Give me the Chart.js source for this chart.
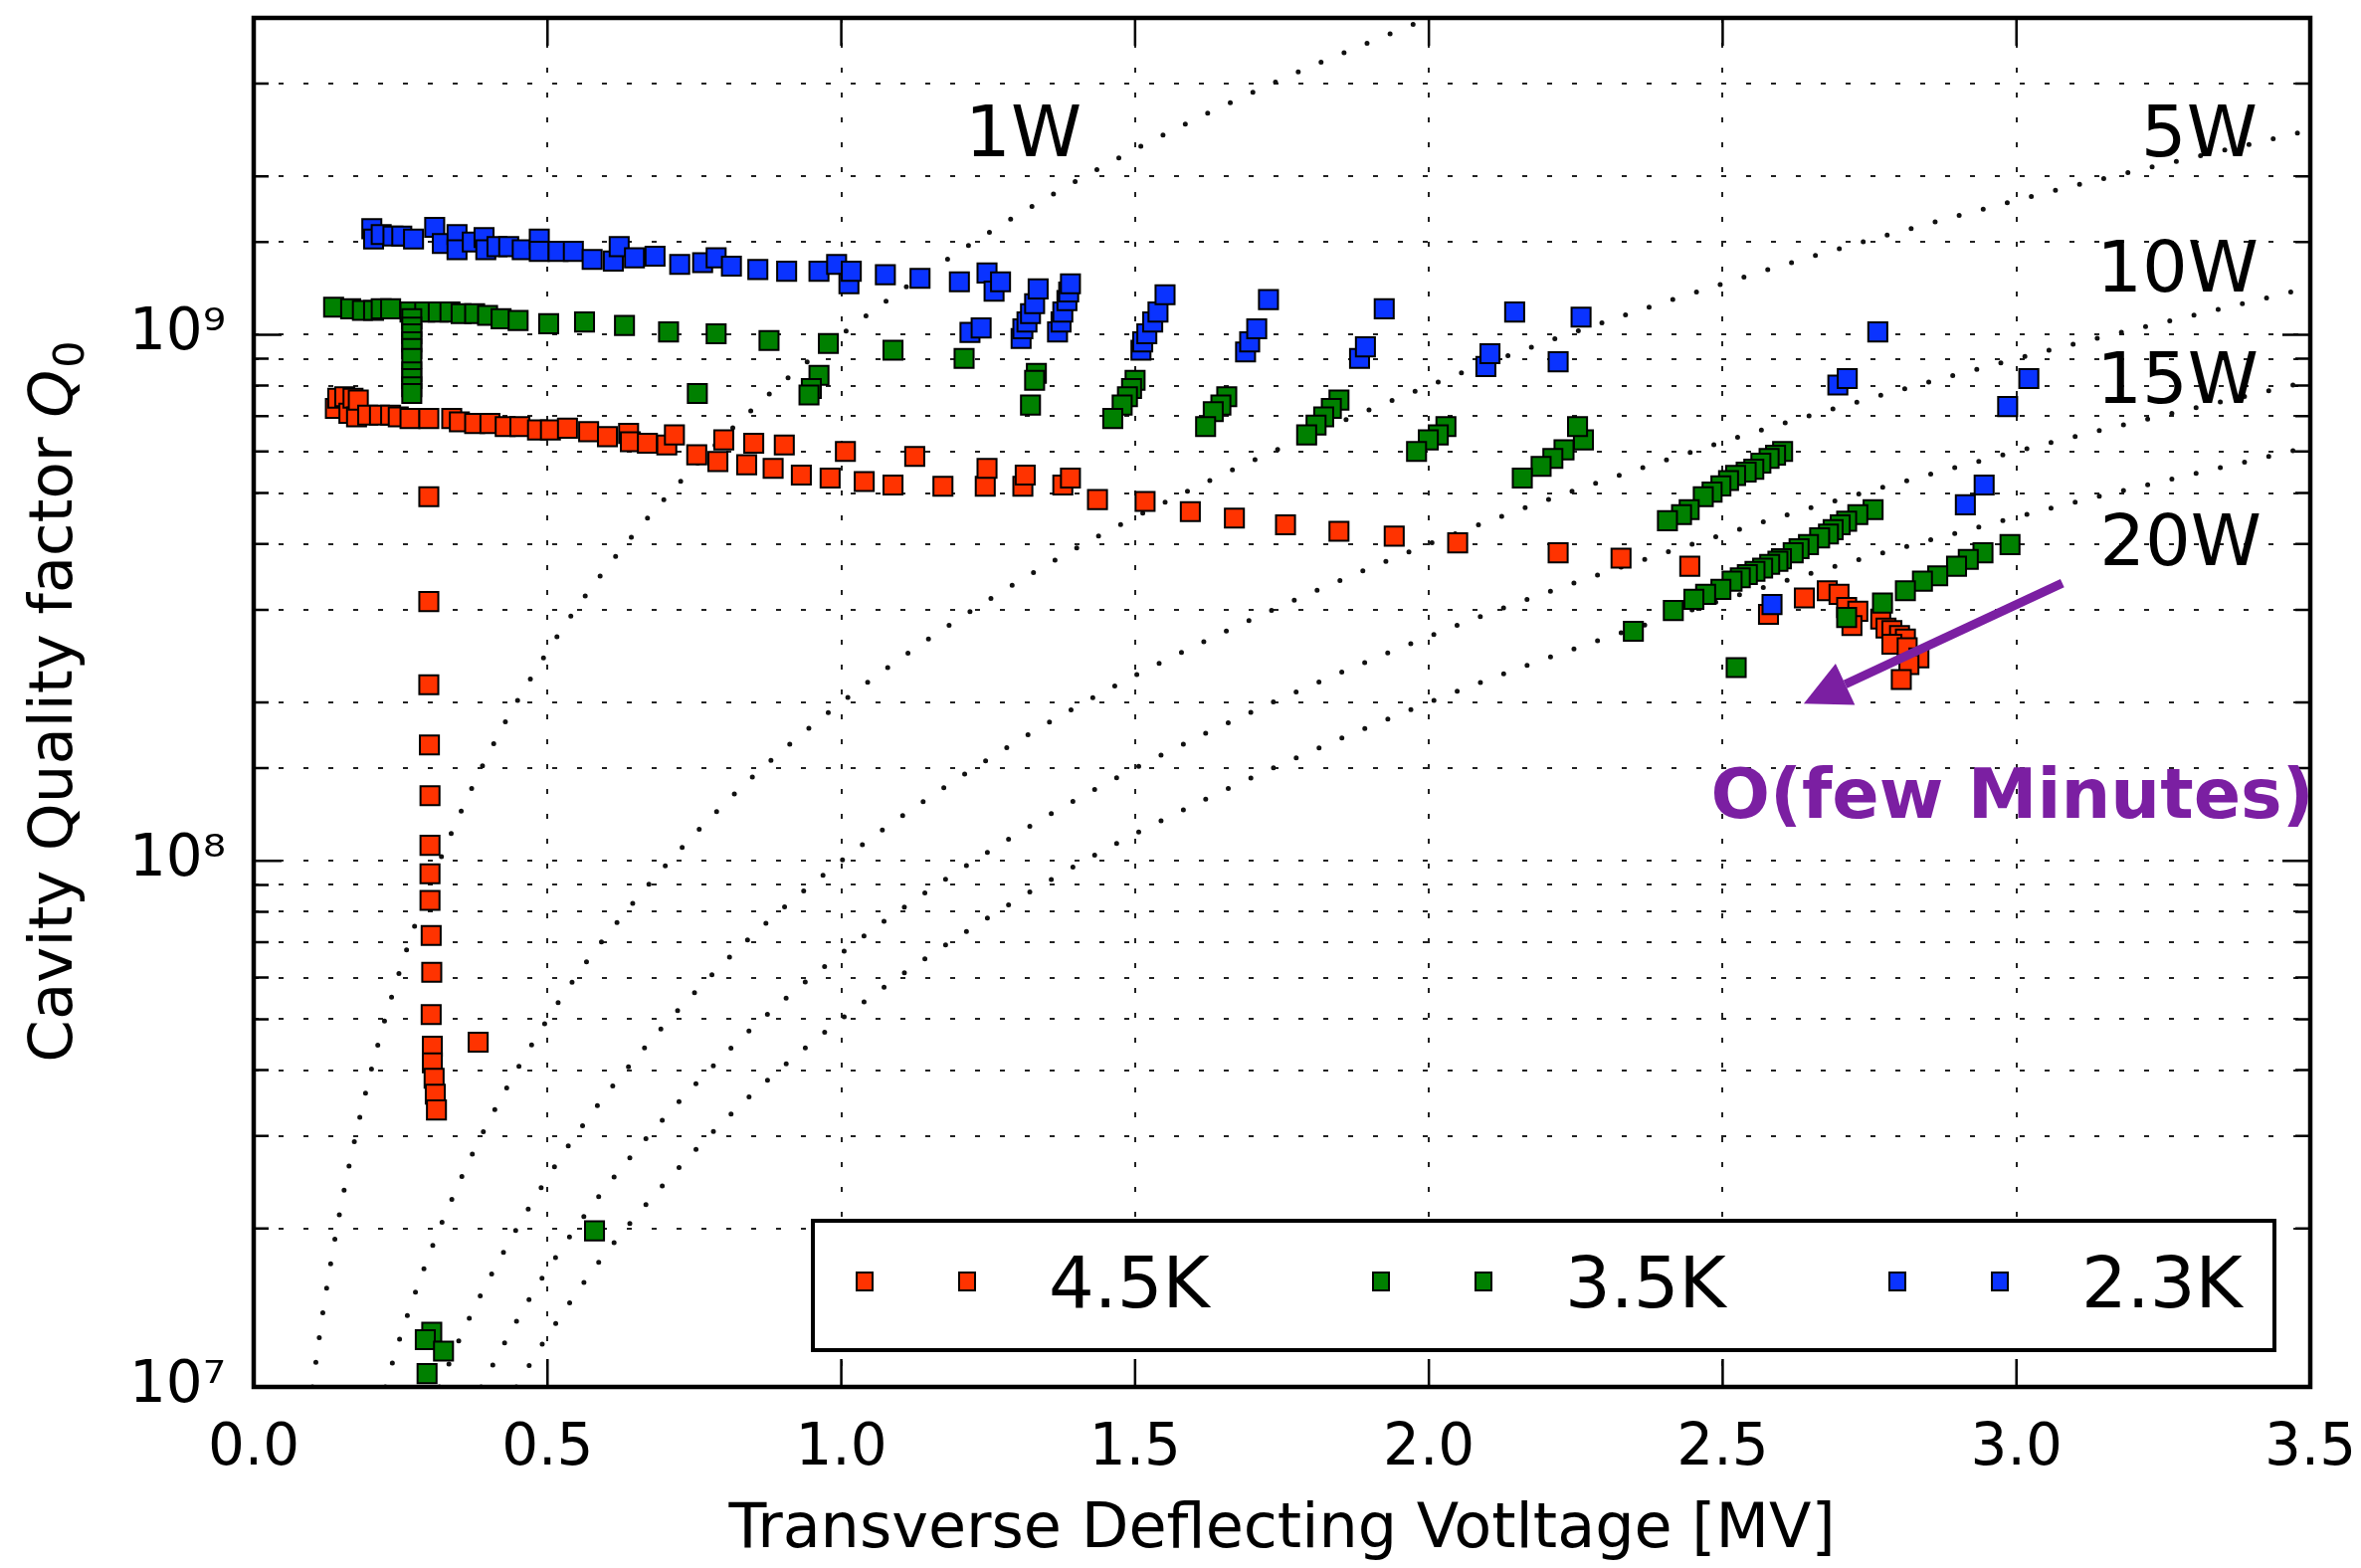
<!DOCTYPE html>
<html>
<head>
<meta charset="utf-8">
<script src="https://cdn.jsdelivr.net/npm/chart.js@4.4.1/dist/chart.umd.min.js"></script>
<style>
  body { margin: 0; background: #fff; }
  canvas { display: block; }
</style>
</head>
<body>
<canvas id="mycanvas" width="2373" height="1576"></canvas>
<script>
// 4.5 K : voltage [MV] and Q0
var v45 = [
  0.139, 0.143, 0.155, 0.162, 0.169, 0.175, 0.178, 0.194, 0.214, 0.233,
  0.246, 0.266, 0.298, 0.337, 0.350, 0.376, 0.402, 0.428, 0.453, 0.483,
  0.505, 0.534, 0.570, 0.602, 0.638, 0.641, 0.670, 0.703, 0.716, 0.754,
  0.790, 0.800, 0.839, 0.851, 0.884, 0.903, 0.932, 0.981, 1.007, 1.039,
  1.088, 1.125, 1.173, 1.245, 1.248, 1.309, 1.313, 1.377, 1.390, 1.436,
  1.517, 1.594, 1.669, 1.756, 1.847, 1.941, 2.049, 2.220, 2.327, 2.444,
  2.578, 2.639, 2.678, 2.698, 2.711, 2.730, 2.720, 2.769, 2.778, 2.788,
  2.801, 2.811, 2.788, 2.814, 2.834, 2.817, 2.804,
  0.298, 0.298, 0.298, 0.299, 0.300, 0.300, 0.300, 0.300, 0.302, 0.303,
  0.302, 0.304, 0.304, 0.307, 0.309, 0.311, 0.382
];
var q45 = [
  7.24e8, 7.57e8, 7.62e8, 7.09e8, 7.57e8, 6.98e8, 7.51e8, 7.03e8, 7.03e8, 7.03e8,
  6.98e8, 6.93e8, 6.93e8, 6.93e8, 6.83e8, 6.78e8, 6.78e8, 6.69e8, 6.69e8, 6.59e8,
  6.59e8, 6.64e8, 6.54e8, 6.40e8, 6.49e8, 6.26e8, 6.22e8, 6.17e8, 6.45e8, 5.91e8,
  5.74e8, 6.31e8, 5.66e8, 6.22e8, 5.57e8, 6.17e8, 5.41e8, 5.34e8, 6.00e8, 5.26e8,
  5.18e8, 5.87e8, 5.15e8, 5.15e8, 5.57e8, 5.15e8, 5.41e8, 5.18e8, 5.34e8, 4.86e8,
  4.82e8, 4.61e8, 4.48e8, 4.35e8, 4.23e8, 4.14e8, 4.02e8, 3.85e8, 3.76e8, 3.63e8,
  2.94e8, 3.16e8, 3.26e8, 3.21e8, 3.03e8, 2.98e8, 2.80e8, 2.88e8, 2.77e8, 2.74e8,
  2.68e8, 2.64e8, 2.58e8, 2.54e8, 2.43e8, 2.36e8, 2.21e8,
  4.92e8, 3.11e8, 2.16e8, 1.66e8, 1.33e8, 1.07e8, 9.45e7, 8.41e7, 7.21e7, 6.14e7,
  5.10e7, 4.44e7, 4.13e7, 3.86e7, 3.60e7, 3.36e7, 4.52e7
];

// 3.5 K
var v35 = [
  0.136, 0.165, 0.185, 0.204, 0.217, 0.233, 0.266, 0.291, 0.314, 0.334,
  0.353, 0.376, 0.398, 0.421, 0.450, 0.502, 0.563, 0.631, 0.706, 0.787,
  0.877, 0.978, 1.088, 1.209,
  0.269, 0.269, 0.269, 0.269, 0.269, 0.269, 0.269, 0.269, 0.269, 0.269,
  0.755, 0.962, 0.949, 0.945, 1.332, 1.329, 1.322,
  1.500, 1.494, 1.487, 1.478, 1.462,
  1.656, 1.646, 1.633, 1.620,
  1.847, 1.834, 1.821, 1.808, 1.792,
  2.029, 2.016, 1.999, 1.979,
  2.263, 2.253, 2.230, 2.211, 2.191, 2.159,
  2.602, 2.590, 2.579, 2.565, 2.553, 2.540, 2.522, 2.510, 2.497, 2.482, 2.467, 2.443, 2.430, 2.406,
  2.756, 2.730, 2.711, 2.700, 2.688, 2.680, 2.665, 2.646, 2.630, 2.620, 2.600, 2.594,
  2.580, 2.568, 2.555, 2.542, 2.530, 2.516, 2.497, 2.471, 2.451, 2.416, 2.348,
  2.523,
  2.989, 2.943, 2.918, 2.898, 2.866, 2.840, 2.811, 2.772, 2.711,
  0.580, 0.303, 0.292, 0.323, 0.295
];
var q35 = [
  1.128e9, 1.120e9, 1.112e9, 1.112e9, 1.120e9, 1.120e9, 1.104e9, 1.104e9, 1.104e9, 1.104e9,
  1.096e9, 1.096e9, 1.088e9, 1.072e9, 1.064e9, 1.049e9, 1.057e9, 1.041e9, 1.012e9, 1.004e9,
  9.75e8, 9.62e8, 9.34e8, 9.01e8,
  1.072e9, 1.034e9, 1.004e9, 9.69e8, 9.41e8, 9.01e8, 8.50e8, 8.25e8, 7.96e8, 7.73e8,
  7.73e8, 8.37e8, 7.90e8, 7.68e8, 8.44e8, 8.19e8, 7.35e8,
  8.19e8, 7.90e8, 7.62e8, 7.35e8, 6.93e8,
  7.62e8, 7.35e8, 7.14e8, 6.69e8,
  7.51e8, 7.24e8, 6.98e8, 6.73e8, 6.45e8,
  6.69e8, 6.45e8, 6.31e8, 6.00e8,
  6.31e8, 6.69e8, 6.04e8, 5.82e8, 5.62e8, 5.34e8,
  6.00e8, 5.90e8, 5.82e8, 5.70e8, 5.55e8, 5.48e8, 5.40e8, 5.28e8, 5.16e8, 5.02e8, 4.92e8, 4.65e8, 4.55e8, 4.43e8,
  4.65e8, 4.55e8, 4.42e8, 4.35e8, 4.26e8, 4.18e8, 4.11e8, 3.99e8, 3.92e8, 3.85e8, 3.75e8, 3.71e8,
  3.66e8, 3.60e8, 3.55e8, 3.50e8, 3.45e8, 3.40e8, 3.28e8, 3.21e8, 3.14e8, 2.99e8, 2.73e8,
  2.33e8,
  3.99e8, 3.85e8, 3.74e8, 3.63e8, 3.48e8, 3.40e8, 3.26e8, 3.09e8, 2.90e8,
  1.98e7, 1.27e7, 1.23e7, 1.17e7, 1.06e7
];

// 2.3 K
var v23 = [
  0.201, 0.204, 0.217, 0.237, 0.252, 0.272, 0.308, 0.321, 0.346, 0.346,
  0.372, 0.392, 0.395, 0.414, 0.434, 0.457, 0.486, 0.486, 0.518, 0.544,
  0.576, 0.612, 0.622, 0.648, 0.683, 0.725, 0.764, 0.787, 0.813, 0.858,
  0.907, 0.962, 0.992, 1.013, 1.017, 1.075, 1.134, 1.201, 1.219, 1.238,
  1.248, 1.260, 1.271,
  1.306, 1.309, 1.316, 1.322, 1.329, 1.335,
  1.368, 1.374, 1.377, 1.384, 1.387, 1.390,
  1.510, 1.513, 1.520, 1.530, 1.539, 1.551,
  1.727, 1.688, 1.695, 1.707, 1.924, 1.882, 1.892,
  2.146, 2.259, 2.097, 2.104, 2.220,
  2.764, 2.696, 2.712, 2.913, 2.945, 2.985, 3.021, 2.584
];
var q23 = [
  1.59e9, 1.52e9, 1.55e9, 1.54e9, 1.54e9, 1.52e9, 1.60e9, 1.49e9, 1.55e9, 1.45e9,
  1.50e9, 1.53e9, 1.45e9, 1.47e9, 1.47e9, 1.45e9, 1.52e9, 1.44e9, 1.44e9, 1.44e9,
  1.39e9, 1.38e9, 1.47e9, 1.40e9, 1.41e9, 1.36e9, 1.37e9, 1.40e9, 1.35e9, 1.33e9,
  1.32e9, 1.32e9, 1.36e9, 1.25e9, 1.32e9, 1.30e9, 1.28e9, 1.26e9, 1.01e9, 1.03e9,
  1.31e9, 1.21e9, 1.26e9,
  9.83e8, 1.026e9, 1.057e9, 1.096e9, 1.145e9, 1.222e9,
  1.012e9, 1.057e9, 1.104e9, 1.161e9, 1.205e9, 1.249e9,
  9.34e8, 9.69e8, 1.004e9, 1.057e9, 1.104e9, 1.191e9,
  1.166e9, 9.27e8, 9.69e8, 1.026e9, 1.120e9, 9.01e8, 9.48e8,
  1.104e9, 1.080e9, 8.70e8, 9.20e8, 8.88e8,
  1.012e9, 8.02e8, 8.25e8, 4.75e8, 5.18e8, 7.30e8, 8.25e8, 3.07e8
];

// dissipated power lines
var p1V = [0.10, 0.12, 0.15, 0.20, 0.25, 0.30, 0.40, 0.50, 0.60, 0.80, 1.00, 1.25, 1.50, 1.75, 2.00];
var p1Q = [1.0e7, 1.44e7, 2.25e7, 4.0e7, 6.25e7, 9.0e7, 1.6e8, 2.5e8, 3.6e8, 6.4e8, 1.0e9, 1.56e9, 2.25e9, 3.06e9, 4.0e9];
var p5V = [0.224, 0.25, 0.30, 0.35, 0.40, 0.50, 0.60, 0.80, 1.00, 1.25, 1.50, 2.00, 2.50, 3.00, 3.50];
var p5Q = [1.0e7, 1.25e7, 1.8e7, 2.45e7, 3.2e7, 5.0e7, 7.2e7, 1.28e8, 2.0e8, 3.13e8, 4.5e8, 8.0e8, 1.25e9, 1.8e9, 2.45e9];
var p10V = [0.316, 0.35, 0.40, 0.50, 0.60, 0.80, 1.00, 1.25, 1.50, 2.00, 2.50, 3.00, 3.50];
var p10Q = [1.0e7, 1.23e7, 1.6e7, 2.5e7, 3.6e7, 6.4e7, 1.0e8, 1.56e8, 2.25e8, 4.0e8, 6.25e8, 9.0e8, 1.23e9];
var p15V = [0.387, 0.45, 0.50, 0.60, 0.80, 1.00, 1.25, 1.50, 2.00, 2.50, 3.00, 3.50];
var p15Q = [1.0e7, 1.35e7, 1.67e7, 2.4e7, 4.27e7, 6.67e7, 1.04e8, 1.5e8, 2.67e8, 4.17e8, 6.0e8, 8.17e8];
var p20V = [0.447, 0.50, 0.60, 0.80, 1.00, 1.25, 1.50, 2.00, 2.50, 3.00, 3.50];
var p20Q = [1.0e7, 1.25e7, 1.8e7, 3.2e7, 5.0e7, 7.8e7, 1.125e8, 2.0e8, 3.13e8, 4.5e8, 6.13e8];

var seriesNames = ['4.5K', '3.5K', '2.3K'];
var powerNames = ['1W', '5W', '10W', '15W', '20W'];
var noteText = 'O(few Minutes)';

var colors = ['#ff3300', '#008000', '#0a33ff'];
var fam = '"DejaVu Sans", sans-serif';
Chart.defaults.font.family = fam;
Chart.defaults.color = '#000';

function pts(xs, ys) {
  return xs.map(function (x, i) { return { x: x, y: ys[i] }; });
}

function markerSet(label, xs, ys, color, order) {
  return {
    label: label,
    data: pts(xs, ys),
    pointStyle: 'rect',
    pointRadius: 13.5,
    pointBackgroundColor: color,
    pointBorderColor: '#000',
    pointBorderWidth: 2,
    showLine: false,
    order: order
  };
}

function powerLine(label, xs, ys) {
  return {
    label: label,
    data: pts(xs, ys),
    showLine: true,
    pointRadius: 0,
    borderColor: '#111',
    borderWidth: 5,
    borderDash: [0, 25],
    borderCapStyle: 'round',
    cubicInterpolationMode: 'monotone',
    fill: false,
    order: 10
  };
}

var sup = { 7: '\u2077', 8: '\u2078', 9: '\u2079' };

// frame with inward ticks on all four sides, plus the y title with math Q0
var frame = {
  id: 'frame',
  afterDatasetsDraw: function (chart) {
    var ctx = chart.ctx, a = chart.chartArea, x = chart.scales.x, y = chart.scales.y;
    ctx.save();
    ctx.strokeStyle = '#000';
    ctx.lineWidth = 2.5;
    ctx.beginPath();
    x.ticks.forEach(function (t) {
      var px = x.getPixelForValue(t.value);
      ctx.moveTo(px, a.bottom); ctx.lineTo(px, a.bottom - 28);
      ctx.moveTo(px, a.top); ctx.lineTo(px, a.top + 28);
    });
    y.ticks.forEach(function (t) {
      var e = Math.log10(t.value);
      var len = Math.abs(e - Math.round(e)) < 1e-6 ? 28 : 15;
      var py = y.getPixelForValue(t.value);
      ctx.moveTo(a.left, py); ctx.lineTo(a.left + len, py);
      ctx.moveTo(a.right, py); ctx.lineTo(a.right - len, py);
    });
    ctx.stroke();
    ctx.lineWidth = 4.5;
    ctx.strokeRect(a.left, a.top, a.right - a.left, a.bottom - a.top);

    // y axis title
    ctx.translate(72, (a.top + a.bottom) / 2);
    ctx.rotate(-Math.PI / 2);
    ctx.fillStyle = '#000';
    ctx.textBaseline = 'alphabetic';
    var t1 = 'Cavity Quality factor ';
    ctx.font = '61px ' + fam; var w1 = ctx.measureText(t1).width;
    ctx.font = 'italic 61px ' + fam; var w2 = ctx.measureText('Q').width;
    ctx.font = '43px ' + fam; var w3 = ctx.measureText('0').width;
    var sx = -(w1 + w2 + w3) / 2;
    ctx.font = '61px ' + fam; ctx.fillText(t1, sx, 0);
    ctx.font = 'italic 61px ' + fam; ctx.fillText('Q', sx + w1, 0);
    ctx.font = '43px ' + fam; ctx.fillText('0', sx + w1 + w2 + 2, 12);
    ctx.restore();
  }
};

// power labels, arrow and note, placed in data coordinates
var notes = {
  id: 'notes',
  afterDatasetsDraw: function (chart) {
    var ctx = chart.ctx, x = chart.scales.x, y = chart.scales.y;
    var at = [[1.409, 2.18e9], [3.41, 2.18e9], [3.412, 1.21e9], [3.412, 7.41e8], [3.417, 3.65e8]];
    ctx.save();
    ctx.fillStyle = '#000';
    ctx.font = '72px ' + fam;
    ctx.textAlign = 'right';
    ctx.textBaseline = 'alphabetic';
    powerNames.forEach(function (s, i) {
      ctx.fillText(s, x.getPixelForValue(at[i][0]), y.getPixelForValue(at[i][1]));
    });

    var purple = '#7b1fa2';
    var x0 = x.getPixelForValue(3.078), y0 = y.getPixelForValue(3.37e8);
    var x1 = x.getPixelForValue(2.638), y1 = y.getPixelForValue(1.99e8);
    var ang = Math.atan2(y1 - y0, x1 - x0);
    var hl = 46, hw = 23;
    var bx = x1 - hl * Math.cos(ang), by = y1 - hl * Math.sin(ang);
    ctx.strokeStyle = purple;
    ctx.fillStyle = purple;
    ctx.lineWidth = 9;
    ctx.beginPath();
    ctx.moveTo(x0, y0); ctx.lineTo(bx, by);
    ctx.stroke();
    ctx.beginPath();
    ctx.moveTo(x1, y1);
    ctx.lineTo(bx + hw * Math.sin(ang), by - hw * Math.cos(ang));
    ctx.lineTo(bx - hw * Math.sin(ang), by + hw * Math.cos(ang));
    ctx.closePath();
    ctx.fill();

    ctx.font = 'bold 70px ' + fam;
    ctx.textAlign = 'center';
    ctx.fillText(noteText, x.getPixelForValue(2.993), y.getPixelForValue(1.207e8));
    ctx.restore();
  }
};

// matplotlib style legend: two markers per entry
var legendBox = {
  id: 'legendBox',
  afterDraw: function (chart) {
    var ctx = chart.ctx, a = chart.chartArea;
    var w = 1469, h = 130;
    var lx = a.right - 36 - w, ly = a.bottom - 37 - h;
    ctx.save();
    ctx.fillStyle = '#fff';
    ctx.fillRect(lx, ly, w, h);
    ctx.lineWidth = 4;
    ctx.strokeStyle = '#000';
    ctx.strokeRect(lx, ly, w, h);
    ctx.font = '72px ' + fam;
    ctx.textBaseline = 'alphabetic';
    seriesNames.forEach(function (s, i) {
      var ex = lx + 52 + i * 519, cy = ly + 61;
      [0, 103].forEach(function (dx) {
        ctx.fillStyle = colors[i];
        ctx.fillRect(ex + dx - 8, cy - 9, 16, 18);
        ctx.lineWidth = 2;
        ctx.strokeRect(ex + dx - 8, cy - 9, 16, 18);
      });
      ctx.fillStyle = '#000';
      ctx.fillText(s, ex + 185, ly + 87);
    });
    ctx.restore();
  }
};

var ctx = document.getElementById('mycanvas');

var chart = new Chart(ctx, {
  type: 'scatter',
  data: {
    datasets: [
      markerSet(seriesNames[2], v23, q23, colors[2], 1),
      markerSet(seriesNames[1], v35, q35, colors[1], 2),
      markerSet(seriesNames[0], v45, q45, colors[0], 3),
      powerLine(powerNames[0], p1V, p1Q),
      powerLine(powerNames[1], p5V, p5Q),
      powerLine(powerNames[2], p10V, p10Q),
      powerLine(powerNames[3], p15V, p15Q),
      powerLine(powerNames[4], p20V, p20Q)
    ]
  },
  options: {
    responsive: false,
    animation: false,
    devicePixelRatio: 1,
    layout: { padding: { top: 18, right: 51, left: 0, bottom: 0 } },
    plugins: {
      legend: { display: false },
      tooltip: { enabled: false }
    },
    scales: {
      x: {
        type: 'linear',
        min: 0,
        max: 3.5,
        afterFit: function (s) { s.height = 182; s.paddingLeft = 0; s.paddingRight = 0; },
        ticks: {
          stepSize: 0.5,
          padding: 28,
          maxRotation: 0,
          autoSkip: false,
          font: { size: 58 },
          color: '#000',
          callback: function (v) { return v.toFixed(1); }
        },
        grid: { color: '#222', lineWidth: 2, drawTicks: false },
        border: { display: false, dash: [5, 20] },
        title: {
          display: true,
          text: 'Transverse Deflecting Votltage [MV]',
          font: { size: 62 },
          color: '#000',
          padding: { top: 0, bottom: 0 }
        }
      },
      y: {
        type: 'logarithmic',
        min: 1e7,
        max: 4e9,
        afterFit: function (s) { s.width = 255; s.paddingTop = 0; s.paddingBottom = 0; },
        ticks: {
          padding: 28,
          autoSkip: false,
          font: { size: 58 },
          color: '#000',
          callback: function (v) {
            var e = Math.log10(v);
            var r = Math.round(e);
            return Math.abs(e - r) < 1e-6 ? '10' + sup[r] : '';
          }
        },
        grid: { color: '#222', lineWidth: 2, drawTicks: false },
        border: { display: false, dash: [5, 20] }
      }
    }
  },
  plugins: [frame, notes, legendBox]
});
</script>
</body>
</html>
